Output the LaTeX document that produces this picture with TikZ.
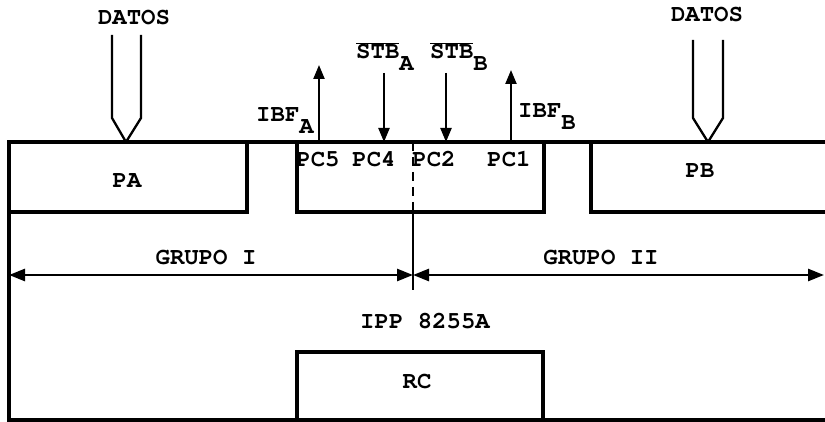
\documentclass[tikz,border=0pt]{standalone}
\usepackage{fontspec}
\usetikzlibrary{arrows.meta}
\newfontfamily\typewr{TeX Gyre Cursor}
\newcommand\lowsub[1]{\raisebox{-12pt}{#1}}
\newcommand\barred[1]{$\overline{\mbox{#1}}$}

\begin{document}
\begin{tikzpicture}[
  x=1pt,y=-1pt,font=\typewr\bfseries\fontsize{24}{28}\selectfont,
  frame/.style={line width=3.2pt},
  bus/.style={line width=2.3pt,line join=round},
  signal/.style={-{Triangle[length=14pt,width=11pt]},line width=2.2pt},
  span/.style={{Triangle[length=16pt,width=12pt]}-{Triangle[length=16pt,width=12pt]},
    line width=2.6pt},
  split/.style={line width=1.7pt,dash pattern=on 9pt off 6pt},
  lbl/.style={inner sep=0pt,anchor=base},
]
\useasboundingbox (0,0) rectangle (825,422);

\draw[frame] (825,142) -- (9,142) -- (9,420) -- (825,420);
\draw[frame] (9,212) -- (247,212) -- (247,142);
\draw[frame] (297,142) -- (297,212) -- (544,212) -- (544,142);
\draw[frame] (591,142) -- (591,212) -- (825,212);
\draw[frame] (297,420) -- (297,352) -- (543,352) -- (543,420);

\node[lbl] (pa) at (127,188) {PA};
\node[lbl] (pb) at (700,178) {PB};
\node[lbl] (rc) at (417,388) {RC};
\node[lbl] (ipp) at (425,328) {IPP 8255A};

\node[lbl] (pc5) at (318,167) {PC5};
\node[lbl] (pc4) at (374,167) {PC4};
\node[lbl] (pc2) at (434,167) {PC2};
\node[lbl] (pc1) at (509,167) {PC1};

\node[lbl] (datosA) at (134,25) {DATOS};
\node[lbl] (datosB) at (707,22) {DATOS};
\coordinate (busA) at (126,142);
\coordinate (busB) at (708,142);
\draw[bus] (busA) ++(-14,-107) -- ++(0,83) -- (busA) -- ++(15,-24) -- ++(0,-83);
\draw[bus] (busB) ++(-15,-102) -- ++(0,78) -- (busB) -- ++(15,-24) -- ++(0,-78);

\coordinate (pinA) at (319,142);
\coordinate (pinB) at (384,142);
\coordinate (pinC) at (446,142);
\coordinate (pinD) at (511,142);
\draw[signal] (pinA) -- ++(0,-77);
\draw[signal] (pinB) ++(0,-69) -- (pinB);
\draw[signal] (pinC) ++(0,-69) -- (pinC);
\draw[signal] (pinD) -- ++(0,-72);
\node[lbl,anchor=base west] (ibfA) at (256,122) {IBF\lowsub{A}};
\node[lbl,anchor=base west] (stbA) at (356,59) {\barred{STB}\lowsub{A}};
\node[lbl,anchor=base west] (stbB) at (430,59) {\barred{STB}\lowsub{B}};
\node[lbl,anchor=base west] (ibfB) at (518,118) {IBF\lowsub{B}};

\coordinate (divTop) at (413,142);
\coordinate (divMid) at (413,212);
\coordinate (divEnd) at (413,290);
\draw[split] (divTop) -- (divMid);
\draw[line width=1.3pt] (divMid) -- (divEnd);

\coordinate (spanL) at (9,275);
\coordinate (spanM) at (413,275);
\coordinate (spanR) at (824,275);
\draw[span] (spanL) -- (spanM);
\draw[span] (spanM) -- (spanR);
\node[lbl] (grp1) at (206,265) {GRUPO I};
\node[lbl] (grp2) at (601,265) {GRUPO II};
\end{tikzpicture}
\end{document}
